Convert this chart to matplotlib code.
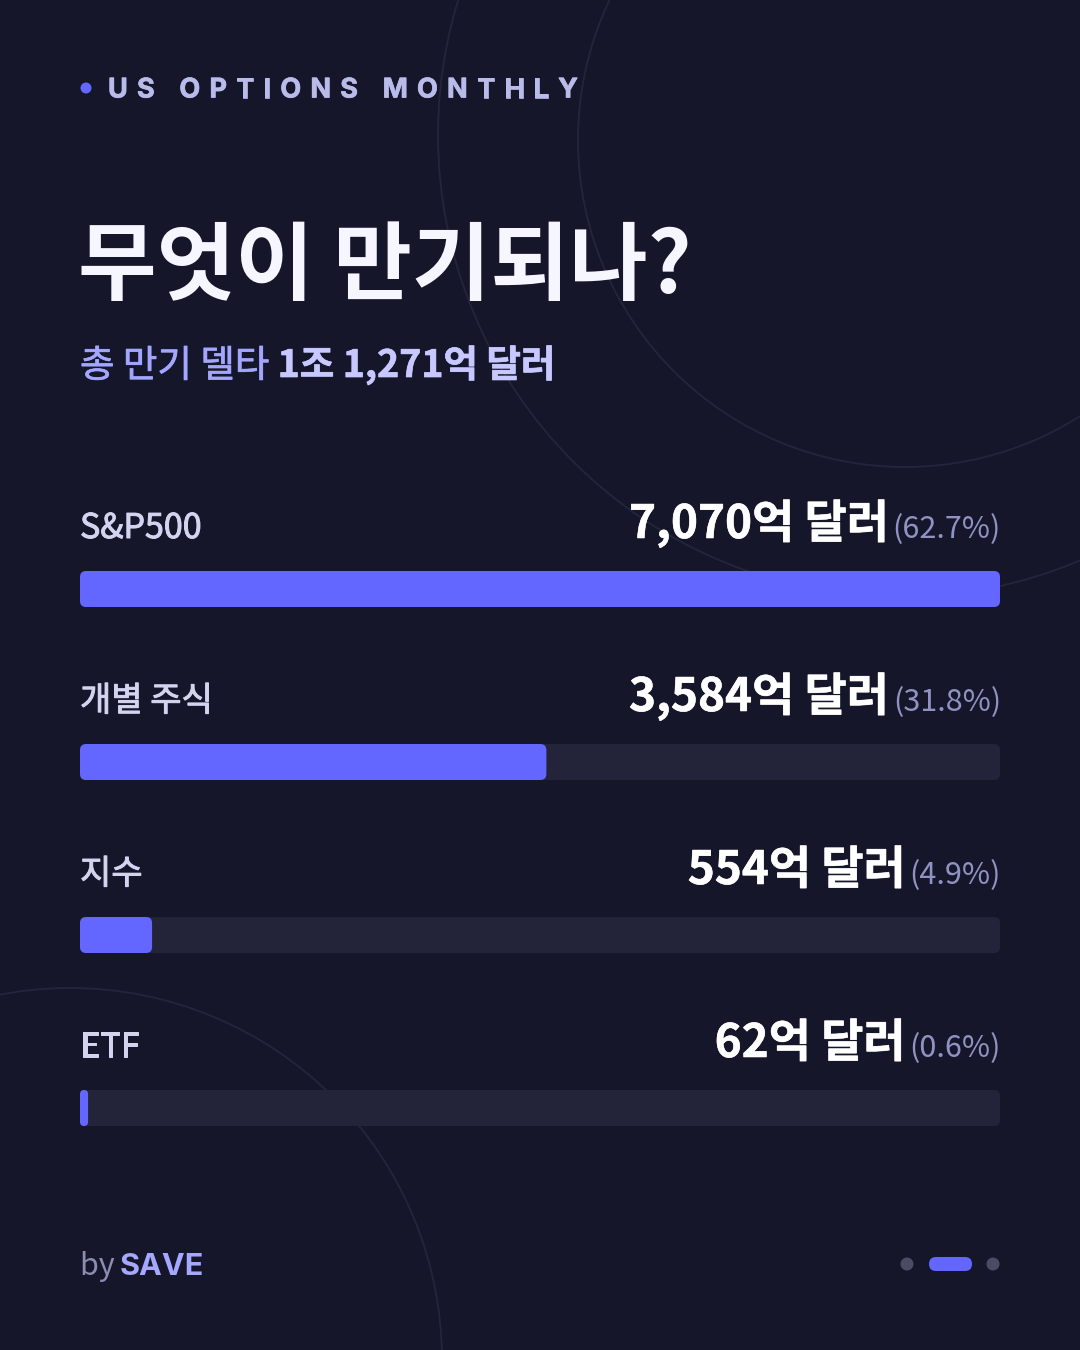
import matplotlib
matplotlib.use('Agg')
import matplotlib.pyplot as plt
import matplotlib.patheffects as pe
from matplotlib.patches import FancyBboxPatch, Circle

# data (억 달러)
categories = ['S&P500', '개별 주식', '지수', 'ETF']
values = [7070, 3584, 554, 62]
shares = [62.7, 31.8, 4.9, 0.6]
kicker = 'US OPTIONS MONTHLY'
title = '무엇이 만기되나?'
subtitle_lead = '총 만기 델타 '
subtitle_total = '1조 1,271억 달러'
brand = 'SAVE'

# colours
bg = '#16162b'
accent = '#6366ff'
track = '#232439'
ring = '#24253b'
kr = ['Noto Sans CJK KR', 'DejaVu Sans']

W, H = 1080, 1350
dpi = 100
fig = plt.figure(figsize=(W / dpi, H / dpi), dpi=dpi, facecolor=bg)
ax = fig.add_axes([0, 0, 1, 1])
ax.set_xlim(0, W)
ax.set_ylim(H, 0)
ax.axis('off')
ax.set_facecolor(bg)
renderer = fig.canvas.get_renderer()


def text_w(t):
    return t.get_window_extent(renderer=renderer).width


def medium(color, lw=0.7):
    # fake a medium weight with a thin stroke of the same colour
    return [pe.withStroke(linewidth=lw, foreground=color)]


# faint background rings
for cx, cy, r in [(900, 135, 462), (905, 140, 327), (70, 1360, 372)]:
    ax.add_patch(Circle((cx, cy), r, fill=False, ec=ring, lw=1.3, zorder=0))

# kicker with wide letter spacing
ax.add_patch(Circle((86, 88), 5.5, color=accent, lw=0))
x0, x1 = 108, 578
chars = []
for ch in kicker:
    t = ax.text(0, 97.5, ch, fontsize=19.5, fontweight='bold', family=['Inter', 'DejaVu Sans'],
                color='#b9bcea', va='baseline', ha='left',
                path_effects=medium('#b9bcea', 0.5))
    chars.append(t)
widths = [text_w(t) for t in chars]
gap = (x1 - x0 - sum(widths)) / (len(chars) - 1)
x = x0
for t, w in zip(chars, widths):
    t.set_x(x)
    x += w + gap

# title
ax.text(78, 293, title, fontsize=61.5, fontweight='bold', family=kr, color='#f5f6ff',
        va='baseline', ha='left')

# subtitle
t1 = ax.text(80, 377, subtitle_lead, fontsize=27, fontweight='medium', family=kr,
             color='#a3a6ff', va='baseline', ha='left', path_effects=medium('#a3a6ff', 0.5))
ax.text(80 + text_w(t1), 377, subtitle_total, fontsize=27, fontweight='bold', family=kr,
        color='#c6c8ff', va='baseline', ha='left', path_effects=medium('#c6c8ff', 0.5))

# rows
left, right = 80, 1000
bar_h = 36
vmax = max(values)
for i, (cat, v, s) in enumerate(zip(categories, values, shares)):
    base = 538 + i * 173
    top = 571 + i * 173
    ax.text(left, base, cat, fontsize=24.5, fontweight='medium', family=kr, color='#d3d5f0',
            va='baseline', ha='left', path_effects=medium('#d3d5f0', 0.7))
    p = ax.text(right + 1, base, f'({s}%)', fontsize=22, family=kr, color='#9093c2',
                va='baseline', ha='right')
    ax.text(right + 1 - text_w(p) - 4, base, f'{v:,}억 달러', fontsize=33, fontweight='bold',
            family=kr, color='#ffffff', va='baseline', ha='right',
            path_effects=medium('#ffffff', 0.4))
    ax.add_patch(FancyBboxPatch((left, top), right - left, bar_h,
                                boxstyle='round,pad=0,rounding_size=6',
                                fc=track, ec='none', zorder=2))
    fw = (right - left) * v / vmax
    ax.add_patch(FancyBboxPatch((left, top), fw, bar_h,
                                boxstyle=f'round,pad=0,rounding_size={min(6, fw / 2)}',
                                fc=accent, ec='none', zorder=3))

# footer
b = ax.text(80, 1275, 'by ', fontsize=22, family=kr, color='#8b8db2',
            va='baseline', ha='left')
ax.text(80 + text_w(b) - 2, 1275, brand, fontsize=22, fontweight='bold',
        family=['Inter', 'DejaVu Sans'], color='#a5a8ff', va='baseline', ha='left')

ax.add_patch(Circle((907, 1264), 6.5, color='#4a4c64', lw=0))
ax.add_patch(FancyBboxPatch((929, 1257), 43, 14, boxstyle='round,pad=0,rounding_size=7',
                            fc=accent, ec='none'))
ax.add_patch(Circle((993, 1264), 6.5, color='#4a4c64', lw=0))

fig.savefig('out.png', dpi=dpi, facecolor=bg)
